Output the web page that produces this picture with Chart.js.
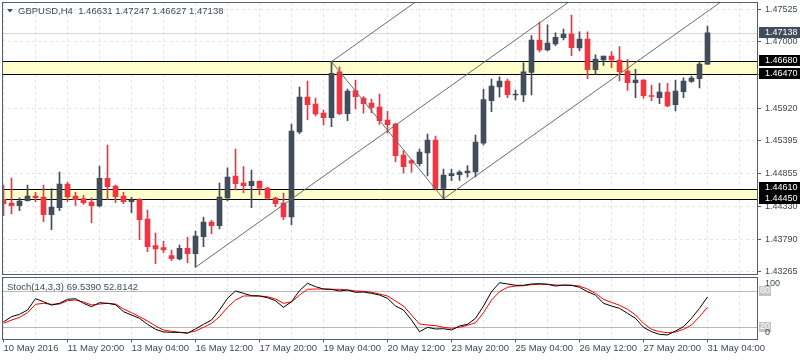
<!DOCTYPE html>
<html lang="en">
<head>
  <meta charset="UTF-8">
  <title>GBPUSD H4</title>
  <script src="https://cdn.jsdelivr.net/npm/chart.js"></script>
  <style>
    html, body { margin: 0; padding: 0; background: #fff; }
    #wrap { position: relative; width: 800px; height: 360px; overflow: hidden; }
    #mainChart { position: absolute; left: 0; top: 0; }
    #stochChart { position: absolute; left: 0; top: 276px; }
  </style>
</head>
<body>
  <div id="wrap">
    <canvas id="mainChart" width="800" height="276"></canvas>
    <canvas id="stochChart" width="800" height="84"></canvas>
  </div>
  <script>
    // ---- data (H4 bars) ----
    const symbol = 'GBPUSD,H4';
    const opens = [1.44442,1.44382,1.44339,1.44420,1.44496,1.44480,1.44193,1.44306,1.44690,1.44496,
      1.44452,1.44399,1.44334,1.44783,1.44658,1.44496,1.44403,1.44436,1.44123,1.43691,
      1.43658,1.43529,1.43475,1.43649,1.43561,1.43837,1.44075,1.44015,1.44463,1.44820,
      1.44706,1.44663,1.44734,1.44625,1.44463,1.44382,1.44156,1.45533,1.46100,1.45986,
      1.45840,1.45764,1.46509,1.45829,1.46202,1.46083,1.46002,1.45938,1.45727,1.45662,
      1.45160,1.45068,1.45019,1.45192,1.45403,1.44617,1.44825,1.44841,1.44873,1.44885,
      1.45350,1.46040,1.46262,1.46359,1.46132,1.46132,1.46500,1.47023,1.46861,1.46958,
      1.47060,1.47120,1.46893,1.47039,1.46542,1.46699,1.46764,1.46699,1.46521,1.46331,
      1.46375,1.46121,1.46088,1.46181,1.45975,1.46186,1.46354,1.46396,1.46631];
    const highs = [1.44674,1.44787,1.44468,1.44674,1.44556,1.44674,1.44614,1.44885,1.44723,1.44556,
      1.44507,1.44468,1.44982,1.45322,1.44674,1.44556,1.44475,1.44452,1.44269,1.43896,
      1.43767,1.43621,1.43702,1.43827,1.43929,1.44156,1.44102,1.44706,1.44954,1.45257,
      1.44971,1.44917,1.44744,1.44642,1.44480,1.44544,1.45662,1.46262,1.46359,1.46083,
      1.45889,1.46672,1.46590,1.46229,1.46375,1.46105,1.46067,1.46148,1.45868,1.45678,
      1.45230,1.45090,1.45257,1.45500,1.45468,1.44933,1.44933,1.44906,1.44987,1.45484,
      1.46224,1.46391,1.46428,1.46391,1.46213,1.46655,1.47093,1.47315,1.47271,1.47141,
      1.47201,1.47428,1.47157,1.47157,1.46785,1.46764,1.46834,1.46915,1.46710,1.46548,
      1.46380,1.46289,1.46321,1.46321,1.46375,1.46412,1.46440,1.46671,1.47247];
    const lows = [1.44177,1.44204,1.44258,1.44410,1.44403,1.44079,1.43950,1.44258,1.44403,1.44345,
      1.44361,1.44063,1.44318,1.44442,1.44387,1.44371,1.44225,1.43788,1.43593,1.43399,
      1.43577,1.43448,1.43459,1.43415,1.43341,1.43674,1.43885,1.43961,1.44420,1.44593,
      1.44549,1.44306,1.44517,1.44442,1.44322,1.44112,1.44031,1.45505,1.45732,1.45792,
      1.45646,1.45618,1.45813,1.45716,1.45905,1.45836,1.45840,1.45657,1.45512,1.45051,
      1.44864,1.44880,1.44982,1.44820,1.44609,1.44450,1.44744,1.44750,1.44799,1.44804,
      1.45322,1.45861,1.46100,1.46088,1.46051,1.46024,1.46132,1.46829,1.46845,1.46931,
      1.47023,1.46769,1.46850,1.46396,1.46467,1.46613,1.46574,1.46359,1.46208,1.46088,
      1.46079,1.46040,1.45991,1.45942,1.45873,1.46088,1.46338,1.46245,1.46627];
    const closes = [1.44371,1.44339,1.44415,1.44496,1.44468,1.44193,1.44318,1.44690,1.44480,1.44436,
      1.44387,1.44339,1.44783,1.44646,1.44484,1.44403,1.44431,1.44112,1.43674,1.43637,
      1.43621,1.43480,1.43649,1.43561,1.43848,1.44075,1.44015,1.44480,1.44804,1.44695,
      1.44663,1.44734,1.44621,1.44459,1.44371,1.44156,1.45549,1.46100,1.45975,1.45824,
      1.45764,1.46484,1.45829,1.46197,1.46105,1.45991,1.45930,1.45716,1.45651,1.45149,
      1.44971,1.45026,1.45209,1.45403,1.44617,1.44836,1.44857,1.44885,1.44901,1.45371,
      1.46056,1.46278,1.46359,1.46137,1.46148,1.46509,1.47023,1.46861,1.46974,1.47067,
      1.47120,1.46898,1.47039,1.46542,1.46715,1.46764,1.46699,1.46509,1.46331,1.46375,
      1.46121,1.46108,1.46181,1.45954,1.46197,1.46359,1.46407,1.46634,1.47138];

    const timeLabels = ['10 May 2016', '11 May 20:00', '13 May 04:00', '16 May 12:00', '17 May 20:00',
      '19 May 04:00', '20 May 12:00', '23 May 20:00', '25 May 04:00', '26 May 12:00',
      '27 May 20:00', '31 May 04:00'];
    const barsPerLabel = 8;

    const priceTicks = [1.47525, 1.47000, 1.46460, 1.45920, 1.45395, 1.44855, 1.44330, 1.43790, 1.43265];
    const bandTop = [1.46680, 1.44610];
    const bandBottom = [1.46470, 1.44450];

    // drawn trend lines: [bar index, price]
    const trendStart = [[24, 1.43341], [41, 1.46672], [41, 1.46672], [55, 1.44450]];
    const trendEnd = [[72, 1.47762], [52, 1.47685], [55, 1.44450], [90, 1.47670]];

    const stochK = [28, 36.7, 40.6, 47.8, 66.7, 61.7, 56, 59, 65.6, 66.7,
      59, 53.3, 60, 59, 56.7, 45, 39.5, 34, 24, 15.6,
      11.2, 10.6, 10.6, 9, 16.2, 24, 31, 47.8, 67.3, 79.5,
      75.6, 71.7, 71.2, 68.3, 63.3, 52.3, 61.7, 80, 92.3, 86.7,
      82.8, 82.3, 79.5, 81.2, 77.3, 77.8, 75.6, 72.8, 67.3, 54.5,
      47.8, 31, 11.7, 19, 16.2, 16.7, 14.5, 21.2, 24, 34,
      54.5, 78.3, 93.3, 91.2, 89, 89, 91.2, 91.7, 90.7, 87.8,
      89.5, 89, 85.7, 78.3, 72.8, 59, 54.5, 50.6, 42.3, 34,
      19, 11.7, 7.3, 6.2, 12.8, 20, 34, 50.6, 69.539];
    const stochD = [25.6, 31, 35.6, 43.4, 57.3, 59, 57.3, 57.8, 63.3, 64.5,
      61.2, 56.2, 57.8, 59, 57.8, 49.5, 43.4, 36.7, 29.5, 21.2,
      14.5, 12.3, 10.6, 10, 12.8, 19, 25.6, 36.7, 52.3, 64.5,
      71.2, 71.2, 71.2, 70, 66.2, 59, 61.2, 72.8, 82.3, 82.8,
      82.8, 82.3, 82.3, 81.2, 79.5, 79, 77.3, 74.5, 71.2, 62.8,
      54.5, 39.5, 24.5, 22.8, 21.7, 19, 17.3, 19, 22.3, 26.7,
      43.4, 64.5, 78.3, 85.7, 87.8, 88.3, 90, 90.7, 90.7, 89.5,
      89, 89, 87.8, 82.8, 75.6, 65.6, 60.6, 55.6, 49, 39.5,
      25.6, 15.6, 11.7, 10, 11.2, 15.6, 22.8, 36.7, 52.8142];
    const stochLevels = [80, 20];
    const stochName = 'Stoch(14,3,3)';

    // ---- styles ----
    const BULL = '#424d5c';
    const BEAR = '#f5323e';
    const FRAME = '#545e6a';
    const GRID = '#e4e4e4';
    const TEXT = '#3f4854';
    const FONT = "'Liberation Sans', Arial, sans-serif";
    const X_MIN = -0.1875, X_MAX = 94.1875;

    const idx = opens.map((_, i) => i);
    const candleColors = idx.map(i => closes[i] >= opens[i] ? BULL : BEAR);
    const gridIdx = [];
    for (let i = 0; i <= X_MAX; i += barsPerLabel / 2) gridIdx.push(i);

    function crisp(v) { return Math.round(v) + 0.5; }

    function drawFrame(ctx, a) {
      ctx.save();
      ctx.strokeStyle = FRAME;
      ctx.lineWidth = 1;
      ctx.strokeRect(Math.floor(a.left) + 0.5, Math.floor(a.top) + 0.5,
        Math.round(a.right - a.left), Math.round(a.bottom - a.top));
      ctx.restore();
    }

    function priceTag(ctx, a, yPix, text, bg) {
      const h = 11;
      ctx.fillStyle = bg;
      ctx.fillRect(a.right + 2, Math.round(yPix - h / 2), 800 - a.right - 2, h);
      ctx.fillStyle = '#fff';
      ctx.textBaseline = 'middle';
      ctx.textAlign = 'left';
      ctx.fillText(text, a.right + 8, yPix);
    }

    // keep the plot area where the reference has it
    function noScalePadding(s) {
      s.paddingTop = 0;
      s.paddingBottom = 0;
    }

    const mainDecor = {
      id: 'mainDecor',
      beforeDatasetsDraw(chart) {
        const { ctx, chartArea: a, scales: { y } } = chart;
        ctx.save();
        // bid line
        const bidY = crisp(y.getPixelForValue(closes[closes.length - 1]));
        ctx.strokeStyle = '#d6d6d6';
        ctx.lineWidth = 1;
        ctx.beginPath(); ctx.moveTo(a.left, bidY); ctx.lineTo(a.right, bidY); ctx.stroke();
        // support / resistance bands
        bandTop.forEach((top, k) => {
          const y1 = crisp(y.getPixelForValue(top));
          const y2 = crisp(y.getPixelForValue(bandBottom[k]));
          ctx.fillStyle = '#ffffcc';
          ctx.fillRect(a.left, y1, a.right - a.left, y2 - y1);
          ctx.strokeStyle = '#000';
          ctx.lineWidth = 1;
          ctx.beginPath();
          ctx.moveTo(a.left, y1); ctx.lineTo(a.right, y1);
          ctx.moveTo(a.left, y2); ctx.lineTo(a.right, y2);
          ctx.stroke();
        });
        ctx.restore();
      },
      afterDraw(chart) {
        const { ctx, chartArea: a, scales: { y } } = chart;
        drawFrame(ctx, a);
        ctx.save();
        // title
        const n = opens.length - 1;
        ctx.fillStyle = TEXT;
        ctx.beginPath();
        ctx.moveTo(7, 9); ctx.lineTo(13, 9); ctx.lineTo(10, 12.5); ctx.closePath(); ctx.fill();
        ctx.font = '9.5px ' + FONT;
        ctx.textBaseline = 'middle';
        ctx.textAlign = 'left';
        ctx.fillText(symbol + '  ' + [opens[n], highs[n], lows[n], closes[n]].map(v => v.toFixed(5)).join(' '), 18, 11);
        // price tags on the axis
        ctx.font = '9px ' + FONT;
        priceTag(ctx, a, y.getPixelForValue(closes[n]), closes[n].toFixed(5), BULL);
        bandTop.forEach((top, k) => {
          priceTag(ctx, a, y.getPixelForValue(top) - 1, top.toFixed(5), '#000');
          priceTag(ctx, a, y.getPixelForValue(bandBottom[k]) - 0.5, bandBottom[k].toFixed(5), '#000');
        });
        ctx.restore();
      }
    };

    const lineDatasets = trendStart.map((s, k) => ({
      type: 'line',
      data: [{ x: s[0], y: s[1] }, { x: trendEnd[k][0], y: trendEnd[k][1] }],
      borderColor: '#6b6b6b',
      borderWidth: 1,
      pointRadius: 0,
      order: 0
    }));

    new Chart(document.getElementById('mainChart'), {
      type: 'line',
      data: {
        datasets: [
          {
            type: 'bar',
            data: idx.map(i => ({ x: i, y: [opens[i], closes[i]] })),
            backgroundColor: candleColors,
            barThickness: 5,
            grouped: false,
            minBarLength: 1,
            order: 1
          },
          {
            type: 'bar',
            data: idx.map(i => ({ x: i, y: [lows[i], highs[i]] })),
            backgroundColor: candleColors,
            barThickness: 1,
            grouped: false,
            order: 2
          },
          ...lineDatasets
        ]
      },
      options: {
        responsive: false,
        animation: false,
        layout: { padding: { left: 2, top: 2, right: 0, bottom: 2.5 } },
        plugins: { legend: { display: false }, tooltip: { enabled: false } },
        scales: {
          x: {
            type: 'linear',
            min: X_MIN,
            max: X_MAX,
            offset: false,
            afterBuildTicks: s => { s.ticks = gridIdx.map(v => ({ value: v })); },
            ticks: { display: false },
            grid: { offset: false, color: GRID, drawTicks: false },
            border: { display: false, dash: [3, 3] }
          },
          y: {
            position: 'right',
            min: 1.43240,
            max: 1.47639,
            afterBuildTicks: s => { s.ticks = priceTicks.map(v => ({ value: v })); },
            afterFit: s => { s.width = 43; noScalePadding(s); },
            ticks: {
              autoSkip: false,
              padding: 4,
              color: TEXT,
              font: { family: FONT, size: 9 },
              callback: v => v.toFixed(5)
            },
            grid: { color: GRID, tickColor: FRAME, tickLength: 4, tickBorderDash: [] },
            border: { display: false, dash: [3, 3] }
          }
        }
      },
      plugins: [mainDecor]
    });

    const stochDecor = {
      id: 'stochDecor',
      beforeDatasetsDraw(chart) {
        const { ctx, chartArea: a, scales: { y } } = chart;
        ctx.save();
        ctx.strokeStyle = '#b9b9b9';
        ctx.lineWidth = 1;
        stochLevels.forEach(l => {
          const py = crisp(y.getPixelForValue(l));
          ctx.beginPath(); ctx.moveTo(a.left, py); ctx.lineTo(a.right, py); ctx.stroke();
        });
        ctx.restore();
      },
      afterDraw(chart) {
        const { ctx, chartArea: a, scales: { y } } = chart;
        drawFrame(ctx, a);
        ctx.save();
        ctx.font = '9.5px ' + FONT;
        ctx.fillStyle = TEXT;
        ctx.textBaseline = 'middle';
        ctx.textAlign = 'left';
        const n = stochK.length - 1;
        ctx.fillText(stochName + ' ' + stochK[n].toFixed(4) + ' ' + stochD[n].toFixed(4), 7, 11);
        // level tags
        ctx.font = '9px ' + FONT;
        stochLevels.forEach(l => {
          const py = y.getPixelForValue(l);
          ctx.fillStyle = '#c4c4c4';
          ctx.fillRect(a.right + 2, Math.round(py - 5), 12, 10);
          ctx.fillStyle = '#fff';
          ctx.fillText(String(l), a.right + 3, py);
        });
        ctx.fillStyle = TEXT;
        ctx.fillText('100', a.right + 8, y.getPixelForValue(100) + 5);
        ctx.fillText('0', a.right + 8, y.getPixelForValue(0) - 6);
        ctx.restore();
      }
    };

    new Chart(document.getElementById('stochChart'), {
      type: 'line',
      data: {
        datasets: [
          { data: stochK.map((v, i) => ({ x: i, y: v })), borderColor: '#000', borderWidth: 1, pointRadius: 0 },
          { data: stochD.map((v, i) => ({ x: i, y: v })), borderColor: '#ff0000', borderWidth: 1, pointRadius: 0 }
        ]
      },
      options: {
        responsive: false,
        animation: false,
        layout: { padding: { left: 2, top: 1.5, right: 0, bottom: 0 } },
        plugins: { legend: { display: false }, tooltip: { enabled: false } },
        scales: {
          x: {
            type: 'linear',
            min: X_MIN,
            max: X_MAX,
            offset: false,
            afterBuildTicks: s => { s.ticks = gridIdx.map(v => ({ value: v })); },
            afterFit: s => { s.height = 20.7; },
            ticks: {
              autoSkip: false,
              maxRotation: 0,
              align: 'start',
              padding: 0,
              color: TEXT,
              font: { family: FONT, size: 9.5 },
              callback: v => (v % barsPerLabel === 0 ? timeLabels[v / barsPerLabel] : '')
            },
            grid: {
              offset: false,
              color: GRID,
              tickLength: 3,
              tickBorderDash: [],
              tickColor: c => (c.tick && c.tick.value % barsPerLabel === 0 ? FRAME : 'rgba(0,0,0,0)')
            },
            border: { display: false, dash: [3, 3] }
          },
          y: {
            position: 'right',
            min: -1,
            max: 102,
            afterFit: s => { s.width = 43; },
            ticks: { display: false },
            grid: { display: false },
            border: { display: false }
          }
        }
      },
      plugins: [stochDecor]
    });
  </script>
</body>
</html>
